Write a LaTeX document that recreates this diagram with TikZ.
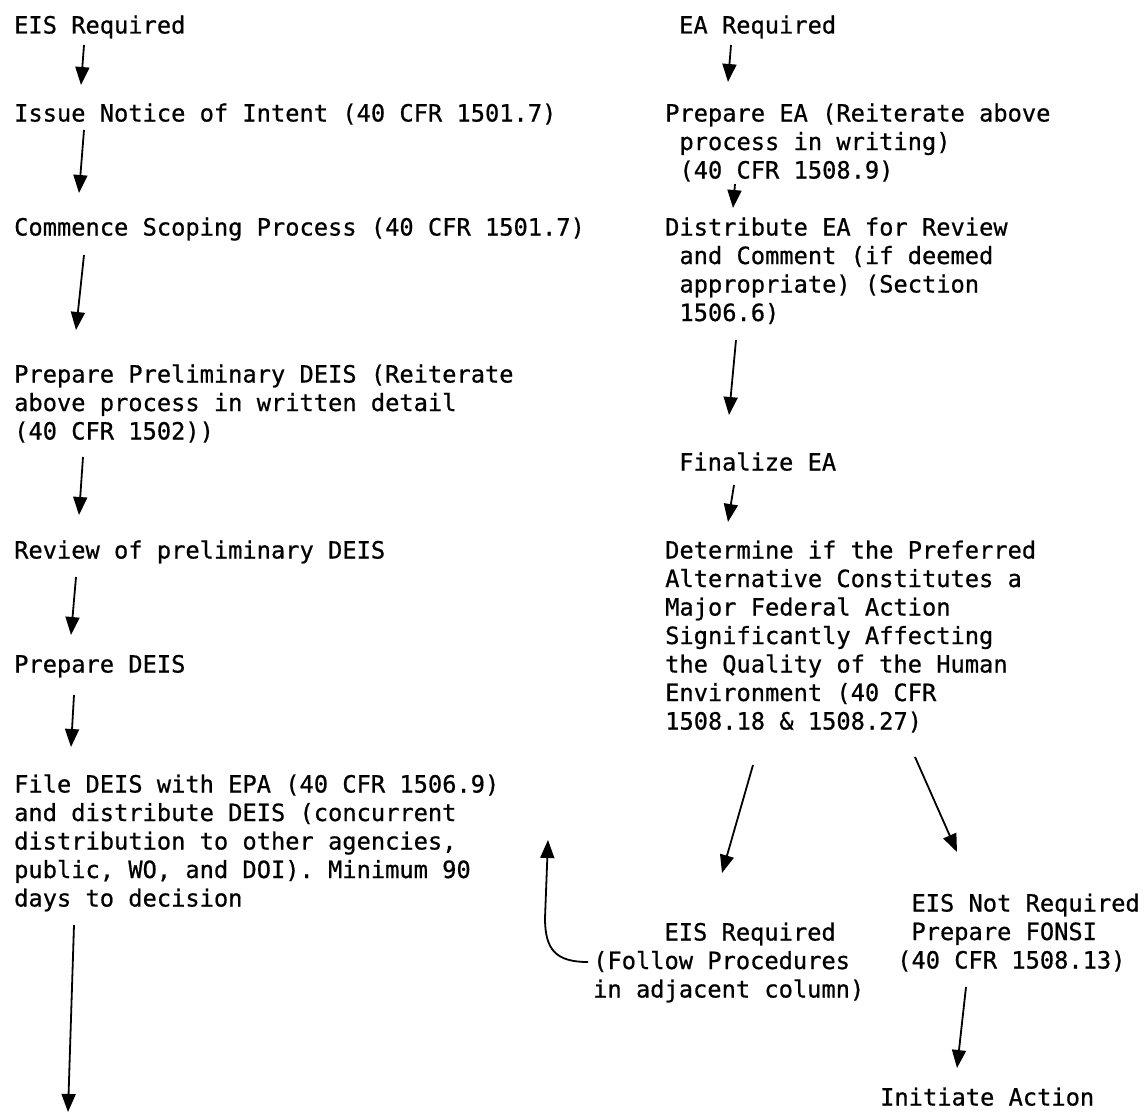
\documentclass[tikz,border=0pt]{standalone}
\usepackage{fontspec}
\setmonofont[FakeBold=0.7]{DejaVu Sans Mono}
\usetikzlibrary{arrows.meta,calc}

\begin{document}
\begin{tikzpicture}[x=1pt, y=-1pt,
	txt/.style={anchor=base west, align=left, inner sep=0, font=\ttfamily\fontsize{23.7}{28.5}\selectfont},
	arr/.style={-{Triangle[length=18pt, width=14pt]}, line width=1.8pt}]
	\useasboundingbox (0,0) rectangle (1146,1116);

	% left column: EIS
	\node (l1) [txt] at (14,33.5) {EIS Required};
	\node (l2) [txt] at (14,121.5) {Issue Notice of Intent (40 CFR 1501.7)};
	\node (l3) [txt] at (14,235.5) {Commence Scoping Process (40 CFR 1501.7)};
	\node (l4) [txt] at (14,439.5) {Prepare Preliminary DEIS (Reiterate\\above process in written detail\\(40 CFR 1502))};
	\node (l5) [txt] at (14,558.5) {Review of preliminary DEIS};
	\node (l6) [txt] at (14,672.5) {Prepare DEIS};
	\node (l7) [txt] at (14,906.5) {File DEIS with EPA (40 CFR 1506.9)\\and distribute DEIS (concurrent\\distribution to other agencies,\\public, WO, and DOI). Minimum 90\\days to decision};
	\coordinate (lend) at (68,1112);

	% right column: EA
	\node (r1) [txt] at (679,33.5) {EA Required};
	\node (r2) [txt] at (665,178.5) {Prepare EA (Reiterate above\\~process in writing)\\~(40 CFR 1508.9)};
	\node (r3) [txt] at (665,321) {Distribute EA for Review\\~and Comment (if deemed\\~appropriate) (Section\\~1506.6)};
	\node (r4) [txt] at (679,470.5) {Finalize EA};
	\node (r5) [txt] at (665,729.5) {Determine if the Preferred\\Alternative Constitutes a\\Major Federal Action\\Significantly Affecting\\the Quality of the Human\\Environment (40 CFR\\1508.18 \& 1508.27)};
	\node (r6) [txt] at (593,997.5) {~~~~~EIS Required\\(Follow Procedures\\in adjacent column)};
	\node (r7) [txt] at (897,968.5) {~EIS Not Required\\~Prepare FONSI\\(40 CFR 1508.13)};
	\node (r8) [txt] at (880,1105.5) {Initiate Action};
	\coordinate (back) at (548,840);

	\draw[arr] ($(l1.base west)+(70,11.5)$) -- ($(l2.base west)+(67,-36.5)$);
	\draw[arr] ($(l2.base west)+(70,8.5)$) -- ($(l3.base west)+(65,-42.5)$);
	\draw[arr] ($(l3.base west)+(70,19.5)$) -- ($(l4.base west)+(62,-109.5)$);
	\draw[arr] ($(l4.base west)+(69,17.5)$) -- ($(l5.base west)+(65,-43.5)$);
	\draw[arr] ($(l5.base west)+(62,18.5)$) -- ($(l6.base west)+(57,-37.5)$);
	\draw[arr] ($(l6.base west)+(60,22.5)$) -- ($(l7.base west)+(57,-159.5)$);
	\draw[arr] ($(l7.base west)+(60,18.5)$) -- (lend);

	\draw[arr] ($(r1.base west)+(52,11.5)$) -- ($(r2.base west)+(63,-96.5)$);
	\draw[arr] ($(r2.base west)+(70,5.5)$) -- ($(r3.base west)+(68,-113)$);
	\draw[arr] ($(r3.base west)+(71,19)$) -- ($(r4.base west)+(50,-55.5)$);
	\draw[arr] ($(r4.base west)+(55,14.5)$) -- ($(r5.base west)+(63,-207.5)$);
	\draw[arr] ($(r5.base west)+(88,35.5)$) -- ($(r6.base west)+(129,-124.5)$);
	\draw[arr] ($(r5.base west)+(250,27.5)$) -- ($(r7.base west)+(60,-116.5)$);
	\draw[arr] ($(r7.base west)+(69,18.5)$) -- ($(r8.base west)+(77,-37.5)$);
	\draw[arr] ($(r6.base west)+(-5,-35.5)$) .. controls (556,962) and (545,950) .. (545,918) -- (back);

\end{tikzpicture}
\end{document}
